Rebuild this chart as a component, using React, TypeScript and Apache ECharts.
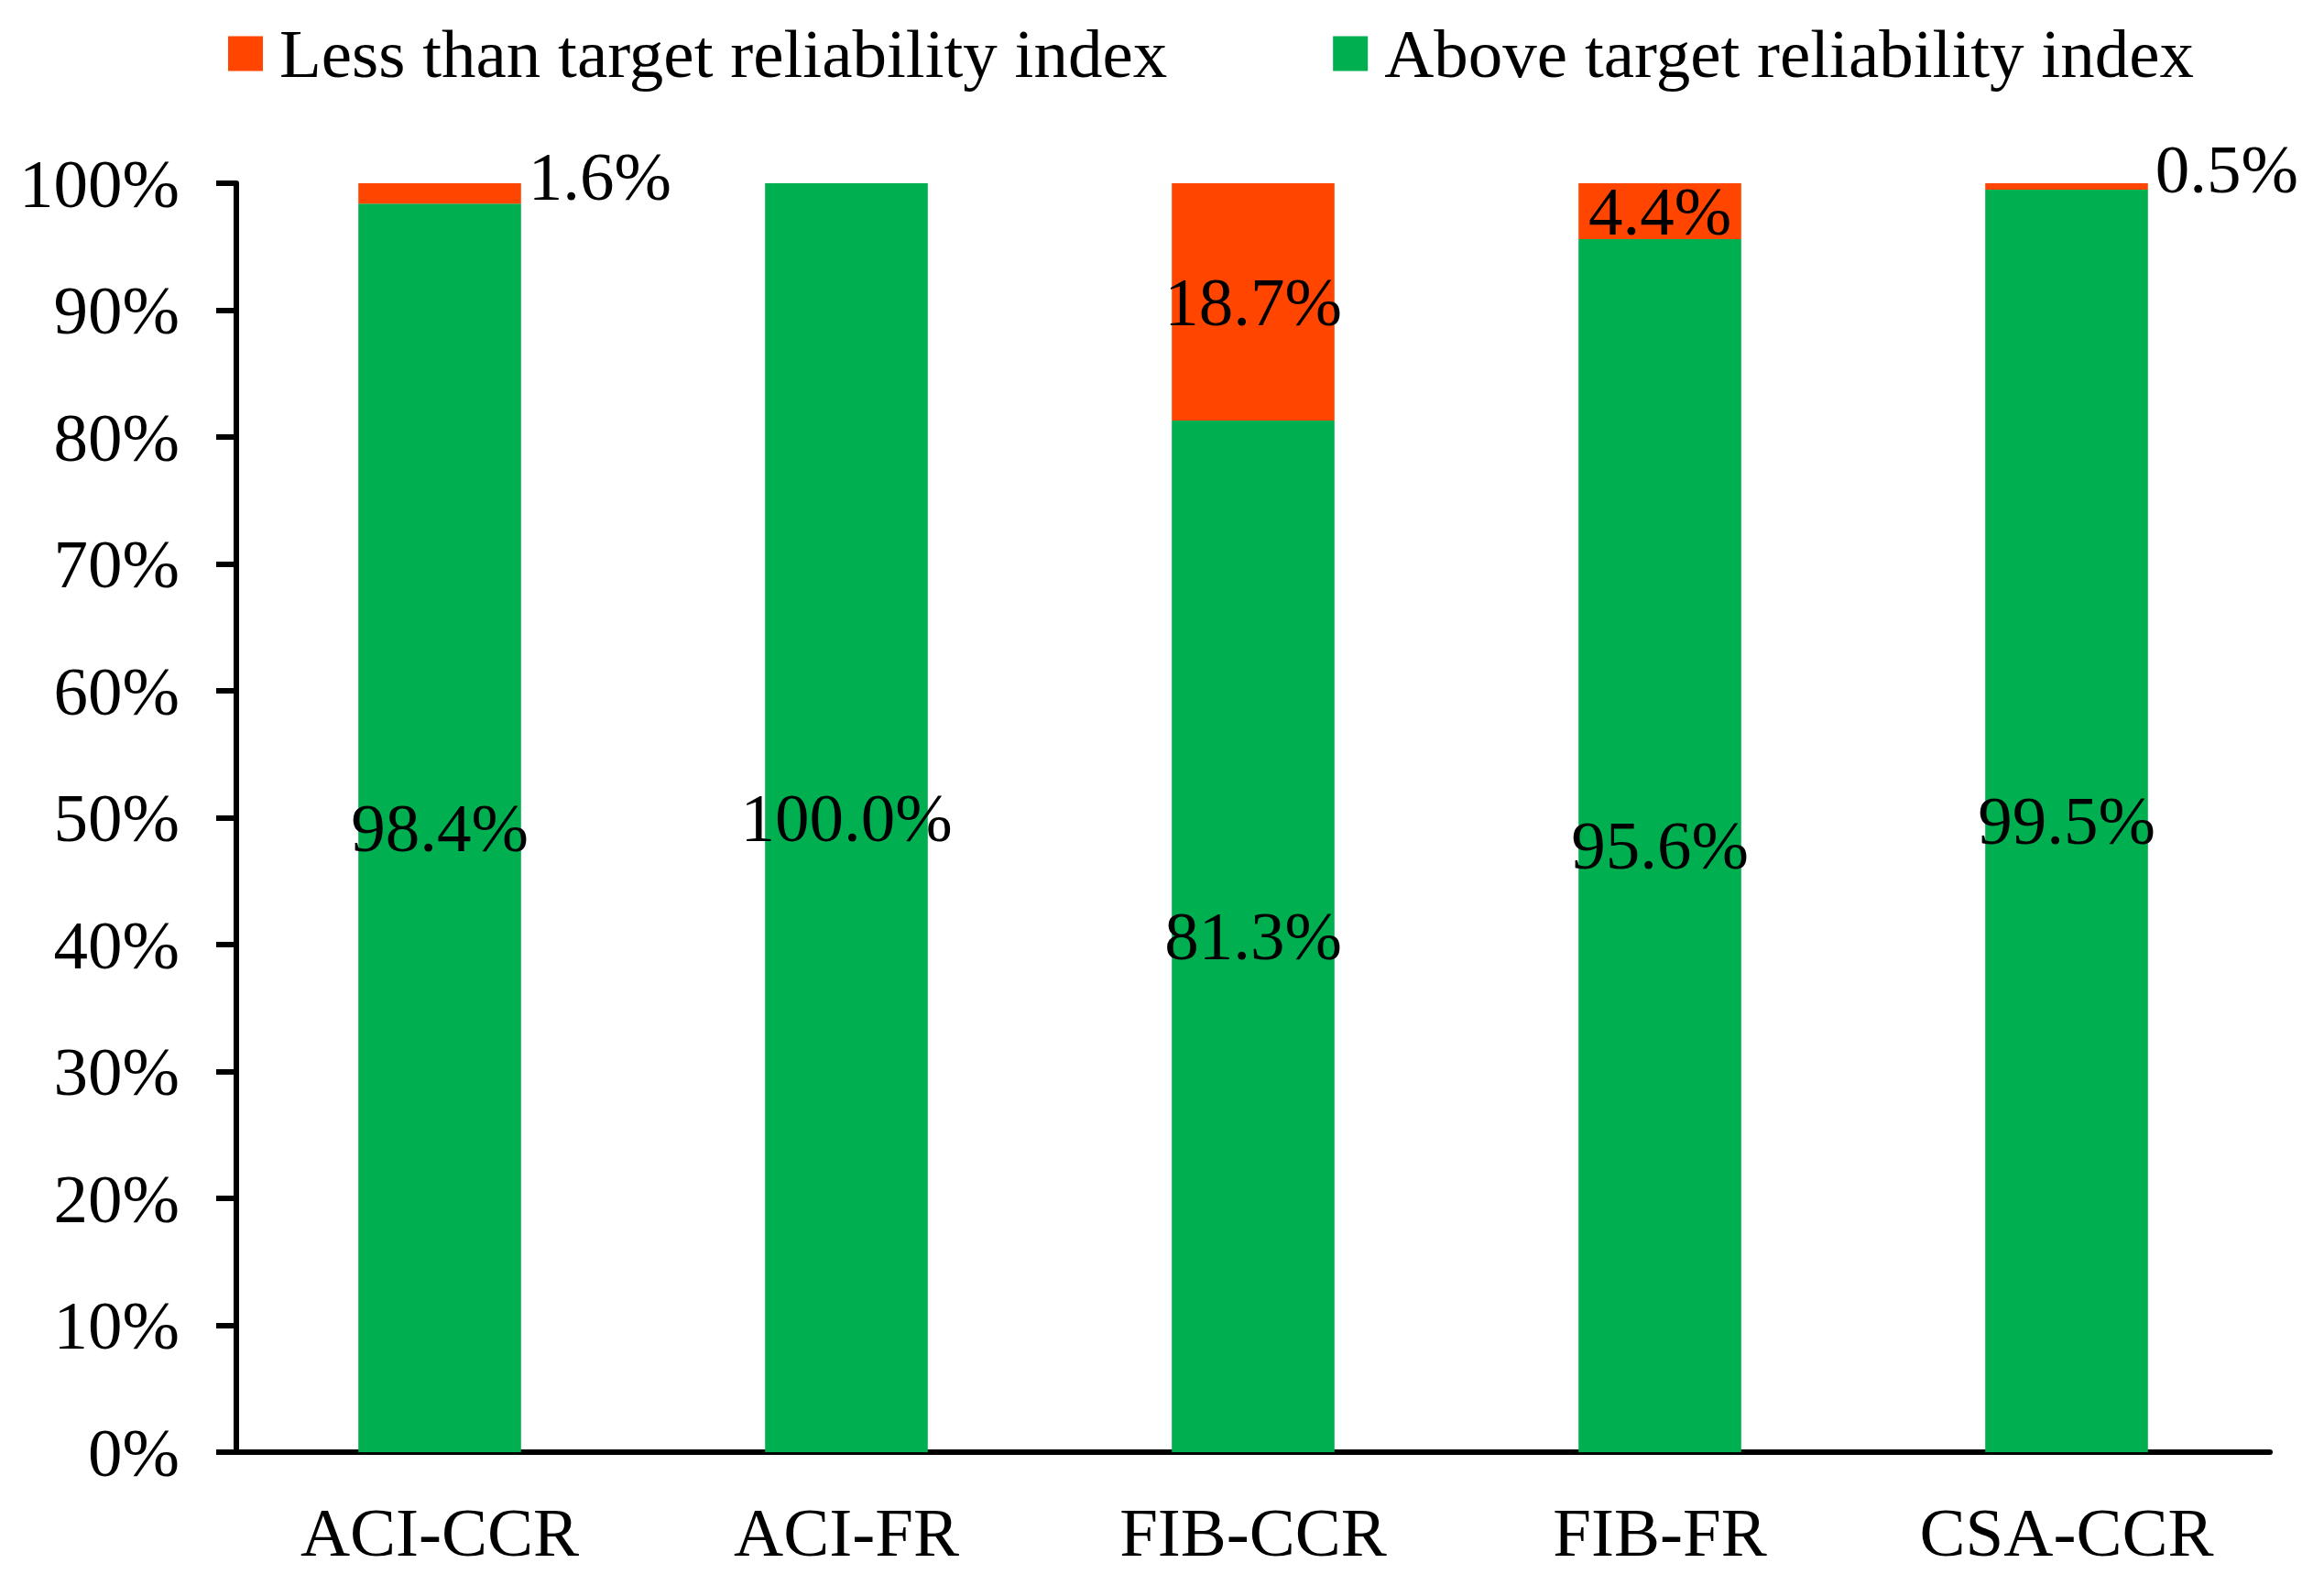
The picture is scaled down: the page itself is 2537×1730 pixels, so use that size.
import React, { useEffect, useRef } from "react";
import * as echarts from "echarts";

const categories = ["ACI-CCR", "ACI-FR", "FIB-CCR", "FIB-FR", "CSA-CCR"];
const aboveValues = [98.4, 100.0, 81.3, 95.6, 99.5];
const lessValues = [1.6, 0.0, 18.7, 4.4, 0.5];
const seriesNames = ["Less than target reliability index", "Above target reliability index"];
const yTicks = { min: 0, max: 100, interval: 10 };

const FONT = "'Liberation Serif', 'Times New Roman', serif";
const FS = 75;
const GREEN = "#00B050";
const ORANGE = "#FF4500";

export default function App() {
  const ref = useRef<HTMLDivElement>(null);

  useEffect(() => {
    if (!ref.current) return;
    const chart = echarts.init(ref.current, undefined, { renderer: "svg" });
    const labelText = (v: number) => v.toFixed(1) + "%";

    const lessData = lessValues.map((v) => {
      if (v === 0) {
        return { value: v, label: { show: false } };
      }
      if (v < 3) {
        return {
          value: v,
          label: { show: true, position: "right", distance: 8, offset: [0, -19] },
        };
      }
      return { value: v, label: { show: true, position: "inside" } };
    });

    chart.setOption({
      animation: false,
      backgroundColor: "#ffffff",
      legend: {
        data: [seriesNames[0], seriesNames[1]],
        left: 249,
        top: 21,
        padding: 0,
        icon: "rect",
        itemWidth: 38,
        itemHeight: 38,
        itemGap: 181,
        selectedMode: false,
        textStyle: {
          fontFamily: FONT,
          fontSize: FS,
          color: "#000",
          padding: [0, 0, 0, 13],
        },
      },
      grid: {
        left: 258,
        right: 59,
        top: 200,
        bottom: 145,
        containLabel: false,
      },
      xAxis: {
        type: "category",
        data: categories,
        axisLine: { show: true, lineStyle: { color: "#000", width: 6 } },
        axisTick: { show: false },
        axisLabel: {
          fontFamily: FONT,
          fontSize: FS,
          color: "#000",
          margin: 50,
        },
        splitLine: { show: false },
      },
      yAxis: {
        type: "value",
        min: yTicks.min,
        max: yTicks.max,
        interval: yTicks.interval,
        axisLine: { show: true, lineStyle: { color: "#000", width: 6 } },
        axisTick: { show: true, inside: false, length: 22, lineStyle: { color: "#000", width: 6 } },
        splitLine: { show: false },
        axisLabel: {
          formatter: "{value}%",
          fontFamily: FONT,
          fontSize: FS,
          color: "#000",
          margin: 62,
        },
      },
      series: [
        {
          name: seriesNames[1],
          type: "bar",
          stack: "total",
          barWidth: "40%",
          data: aboveValues,
          itemStyle: { color: GREEN },
          label: {
            show: true,
            position: "inside",
            formatter: (p: any) => labelText(p.value),
            fontFamily: FONT,
            fontSize: FS,
            color: "#000",
          },
        },
        {
          name: seriesNames[0],
          type: "bar",
          stack: "total",
          barWidth: "40%",
          data: lessData,
          itemStyle: { color: ORANGE },
          label: {
            show: true,
            position: "inside",
            formatter: (p: any) => labelText(p.value),
            fontFamily: FONT,
            fontSize: FS,
            color: "#000",
          },
        },
      ],
    });

    return () => {
      chart.dispose();
    };
  }, []);

  return (
    <div
      ref={ref}
      style={{ position: "fixed", left: 0, top: 0, width: 2537, height: 1730, background: "#fff" }}
    />
  );
}
